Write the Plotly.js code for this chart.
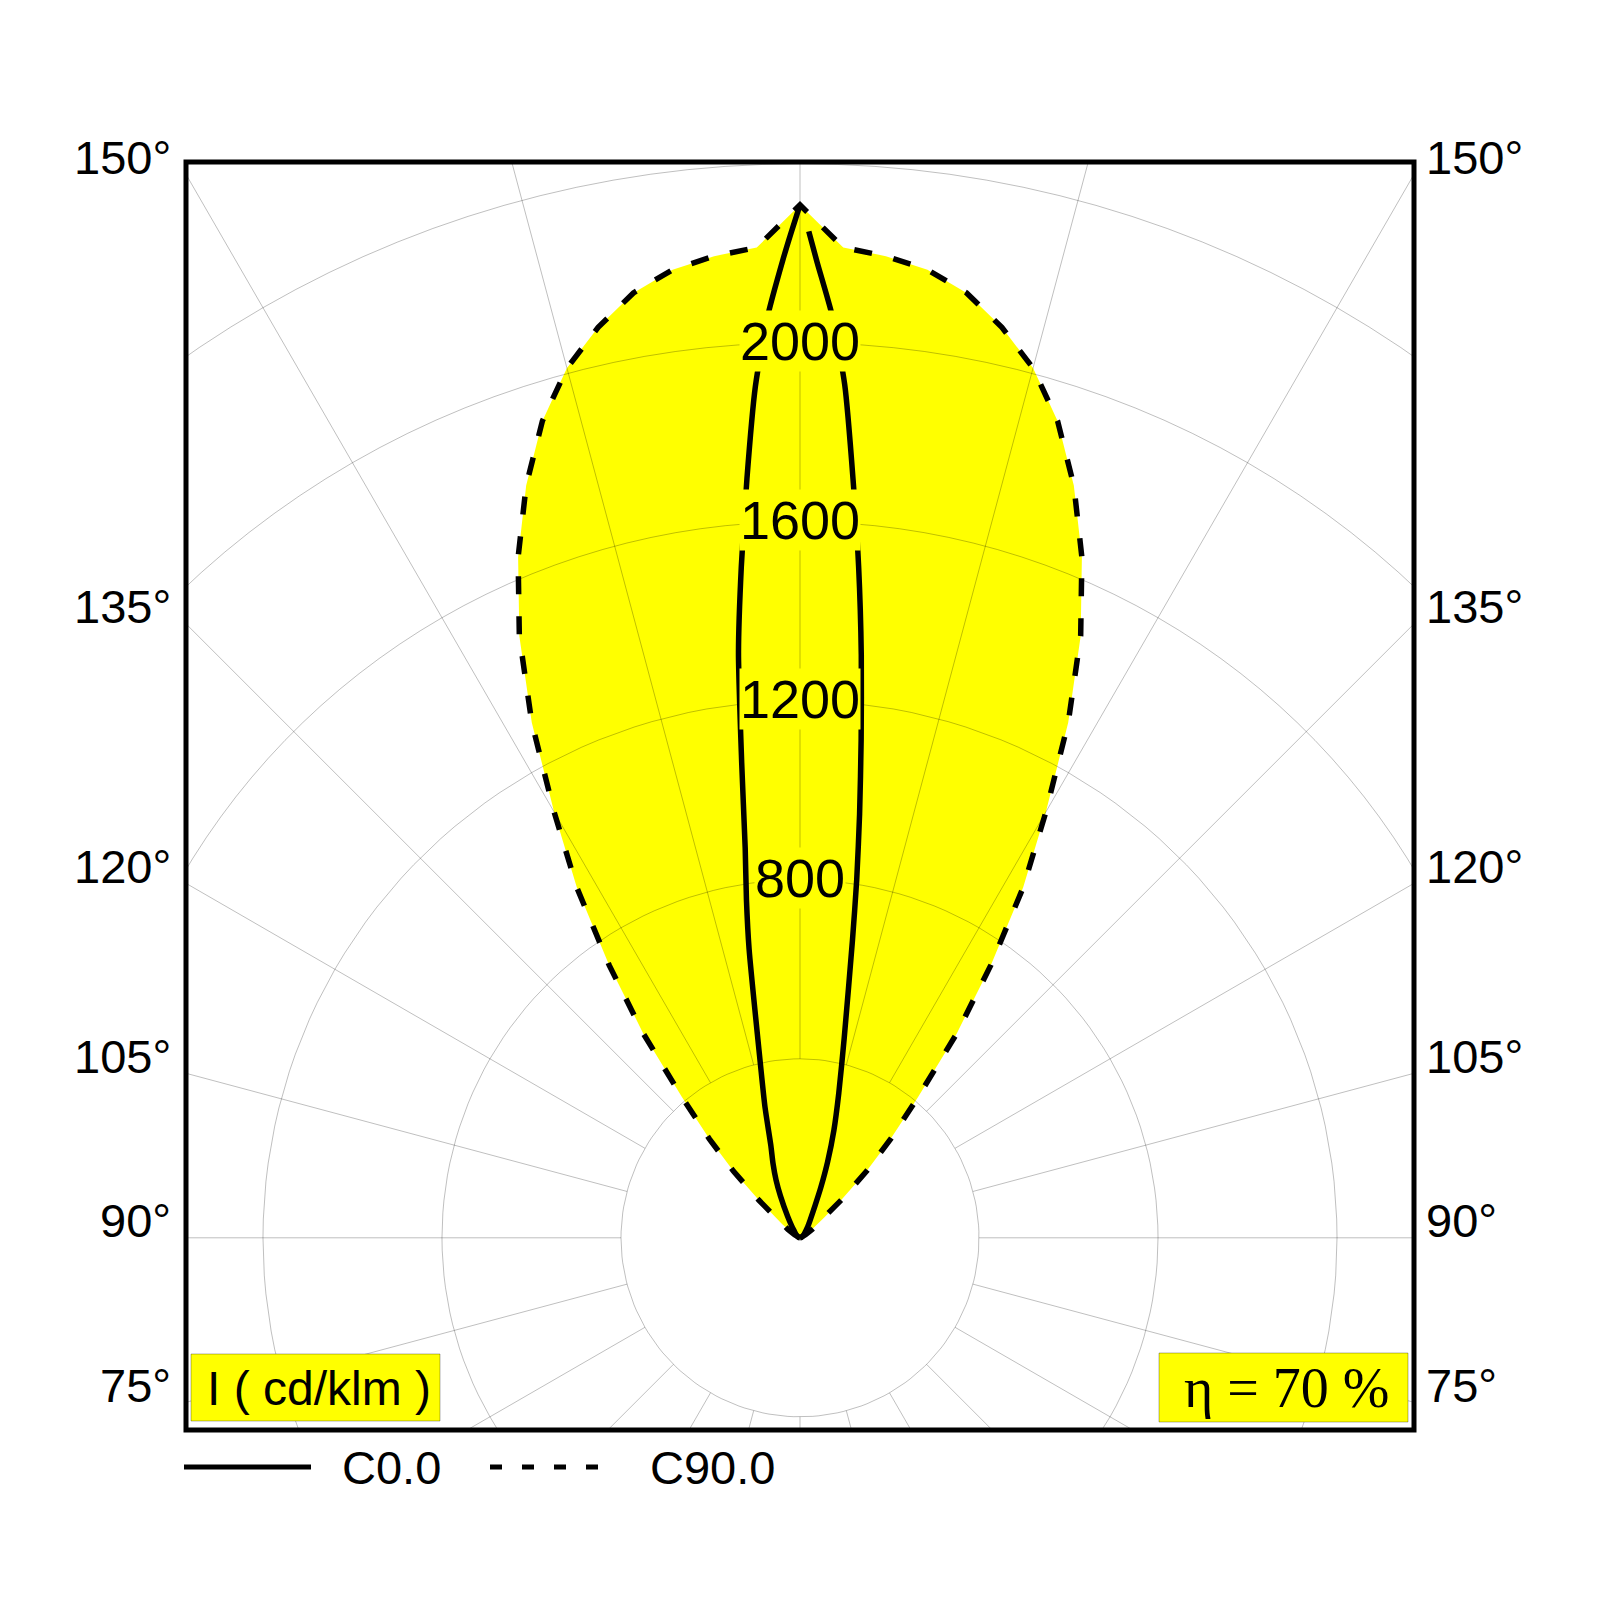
<!DOCTYPE html>
<html>
<head>
<meta charset="utf-8">
<script src="https://cdn.plot.ly/plotly-3.0.1.min.js"></script>
<style>
  html, body { margin: 0; padding: 0; background: #fff; }
  #chart { width: 1600px; height: 1600px; }
</style>
</head>
<body>
<div id="chart"></div>
<script>
// photometric data, cd/klm, gamma in degrees (180 = straight up)
const gammaC90 = [180, 177.5, 175, 172.5, 170, 167.5, 165, 162.5, 160, 157.5, 155, 152.5, 150,
                  147.5, 145, 142.5, 140, 137.5, 135, 132.5, 130, 127.5, 125, 120, 115, 110, 100, 90];
const c90 = [2308, 2215, 2202, 2182, 2144, 2084, 2012, 1914, 1789, 1646, 1484, 1298, 1099,
             928, 743, 575, 410, 300, 210, 125, 70, 50, 33, 14, 5, 2, 0, 0];

const gammaC0 = [180, 179.5, 179, 178, 177, 176, 175, 174, 173, 172, 171, 170, 167.5, 165,
                 162.5, 160, 157.5, 155, 150, 145, 140, 130, 120, 110, 100, 90];
const c0Right = [null, 2249, 2181, 2062, 1909, 1699, 1504, 1310, 1121, 957, 810, 675, 456, 335,
                 252, 180, 121, 80, 45, 30, 20, 12, 6, 3, 1, 0];
const c180Left = [2308, 2247, 2186, 2062, 1905, 1700, 1505, 1315, 1069, 880, 765, 655, 418, 302,
                  217, 176, 140, 104, 55, 32, 20, 12, 6, 3, 1, 0];

const rings = [400, 800, 1200, 1600, 2000, 2400];
const ringLabels = [800, 1200, 1600, 2000];
const angleLabels = [150, 135, 120, 105, 90, 75];
const legendNames = ['C0.0', 'C90.0'];
const unitText = 'I ( cd/klm )';
const etaText = 'η = 70 %';

// layout geometry
const W = 1600, H = 1600;
const M = {l: 186, r: 186, t: 162, b: 170};
const xMax = 1372, yMin = -429.5, yMax = 2404;
const pw = W - M.l - M.r, ph = H - M.t - M.b;
function px(x) { return (x - M.l) / pw; }
function py(y) { return (H - M.b - y) / ph; }

const rad = Math.PI / 180;
// side = +1 right half, -1 left half
function toXY(gammas, vals, side) {
    const xs = [], ys = [];
    for (let i = 0; i < gammas.length; i++) {
        const v = vals[i];
        if (v === null) { xs.push(null); ys.push(null); continue; }
        const t = (180 - gammas[i]) * rad;
        xs.push(side * v * Math.sin(t));
        ys.push(v * Math.cos(t));
    }
    return {x: xs, y: ys};
}

// C90 outline: left half from centre up to the peak, then right half down to centre
const c90L = toXY(gammaC90, c90, -1);
const c90R = toXY(gammaC90, c90, 1);
const c90x = c90L.x.slice().reverse().concat(c90R.x.slice(1));
const c90y = c90L.y.slice().reverse().concat(c90R.y.slice(1));

const c0L = toXY(gammaC0, c180Left, -1);
const c0R = toXY(gammaC0, c0Right, 1);

// polar grid
const gx = [], gy = [];
rings.forEach(r => {
    for (let a = 0; a <= 360; a += 2) {
        gx.push(r * Math.sin(a * rad)); gy.push(r * Math.cos(a * rad));
    }
    gx.push(null); gy.push(null);
});
for (let a = 0; a < 360; a += 15) {
    gx.push(rings[0] * Math.sin(a * rad), 3400 * Math.sin(a * rad), null);
    gy.push(rings[0] * Math.cos(a * rad), 3400 * Math.cos(a * rad), null);
}

const lw = 5.5;
const traces = [
    {x: c90x, y: c90y, mode: 'lines', fill: 'toself', fillcolor: '#ffff00',
     line: {width: 0}, hoverinfo: 'skip'},
    {x: gx, y: gy, mode: 'lines', line: {color: 'rgba(0,0,0,0.25)', width: 1}, hoverinfo: 'skip'},
    {x: c90x, y: c90y, mode: 'lines', line: {color: '#000', width: lw, dash: '18px,22px'}},
    {x: c0L.x, y: c0L.y, mode: 'lines', line: {color: '#000', width: lw, shape: 'spline', smoothing: 0.6}},
    {x: c0R.x, y: c0R.y, mode: 'lines', line: {color: '#000', width: lw, shape: 'spline', smoothing: 0.6}}
];

const sans = 'Liberation Sans, Arial, sans-serif';
const annotations = [];

ringLabels.forEach(r => {
    annotations.push({x: 0, y: r, xref: 'x', yref: 'y', text: String(r), showarrow: false,
        xanchor: 'center', yanchor: 'middle', yshift: 2, bgcolor: '#ffff00', borderpad: 0,
        font: {family: sans, size: 54, color: '#000'}});
});

angleLabels.forEach(g => {
    const t = (180 - g) * rad;
    const yv = xMax * Math.cos(t) / Math.sin(t);
    annotations.push({x: 0, y: yv, xref: 'paper', yref: 'y', text: g + '°', showarrow: false,
        xanchor: 'right', yanchor: 'middle', xshift: -13, yshift: 17,
        font: {family: sans, size: 47, color: '#000'}});
    annotations.push({x: 1, y: yv, xref: 'paper', yref: 'y', text: g + '°', showarrow: false,
        xanchor: 'left', yanchor: 'middle', xshift: 10, yshift: 17,
        font: {family: sans, size: 47, color: '#000'}});
});

annotations.push({x: px(340), y: py(1467), xref: 'paper', yref: 'paper', text: legendNames[0],
    showarrow: false, xanchor: 'left', yanchor: 'middle', font: {family: sans, size: 47, color: '#000'}});
annotations.push({x: px(648), y: py(1467), xref: 'paper', yref: 'paper', text: legendNames[1],
    showarrow: false, xanchor: 'left', yanchor: 'middle', font: {family: sans, size: 47, color: '#000'}});
annotations.push({x: px(205), y: py(1388), xref: 'paper', yref: 'paper', text: unitText,
    showarrow: false, xanchor: 'left', yanchor: 'middle', font: {family: sans, size: 48, color: '#000'}});
annotations.push({x: px(1182), y: py(1388), xref: 'paper', yref: 'paper', text: etaText,
    showarrow: false, xanchor: 'left', yanchor: 'middle',
    font: {family: 'Liberation Serif, Times New Roman, serif', size: 56, color: '#000'}});

const shapes = [
    {type: 'rect', xref: 'paper', yref: 'paper', x0: px(191), x1: px(440), y0: py(1421), y1: py(1354),
     fillcolor: '#ffff00', line: {color: 'rgba(0,0,0,0.3)', width: 1}, layer: 'above'},
    {type: 'rect', xref: 'paper', yref: 'paper', x0: px(1159), x1: px(1408), y0: py(1422), y1: py(1353),
     fillcolor: '#ffff00', line: {color: 'rgba(0,0,0,0.3)', width: 1}, layer: 'above'},
    {type: 'rect', xref: 'paper', yref: 'paper', x0: 0, x1: 1, y0: 0, y1: 1,
     line: {color: '#000', width: 5}, layer: 'above'},
    {type: 'line', xref: 'paper', yref: 'paper', x0: px(184), x1: px(311), y0: py(1467), y1: py(1467),
     line: {color: '#000', width: 5}},
    {type: 'line', xref: 'paper', yref: 'paper', x0: px(490), x1: px(602), y0: py(1467), y1: py(1467),
     line: {color: '#000', width: 5, dash: '12px,20px'}}
];

const layout = {
    width: W, height: H,
    margin: M,
    paper_bgcolor: '#fff', plot_bgcolor: '#fff',
    showlegend: false,
    xaxis: {range: [-xMax, xMax], visible: false, fixedrange: true},
    yaxis: {range: [yMin, yMax], visible: false, fixedrange: true},
    annotations: annotations,
    shapes: shapes
};

Plotly.newPlot('chart', traces, layout, {staticPlot: true});
</script>
</body>
</html>
